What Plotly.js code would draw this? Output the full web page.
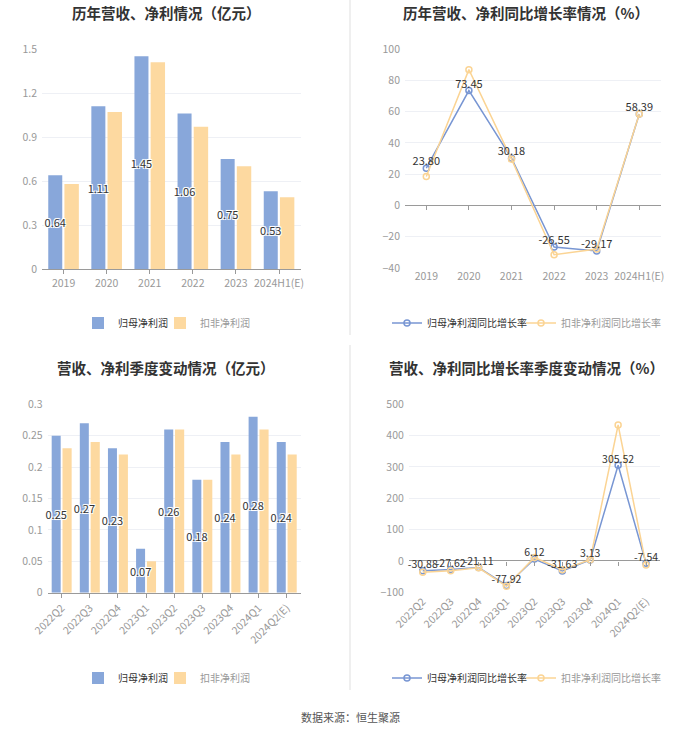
<!DOCTYPE html>
<html><head><meta charset="utf-8">
<script src="https://cdn.plot.ly/plotly-3.0.1.min.js"></script>
<style>html,body{margin:0;padding:0;background:#fff;}#chart{width:700px;height:734px;}</style>
</head><body><div id="chart"></div>
<script>
// ---- data ----
const years = ['2019','2020','2021','2022','2023','2024H1(E)'];
const profit = [0.64,1.11,1.45,1.06,0.75,0.53];
const deductProfit = [0.58,1.07,1.41,0.97,0.70,0.49];
const profitYoY = [23.80,73.45,30.18,-26.55,-29.17,58.39];
const deductYoY = [18.5,86.8,29.6,-31.5,-27.9,58.39];
const quarters = ['2022Q2','2022Q3','2022Q4','2023Q1','2023Q2','2023Q3','2023Q4','2024Q1','2024Q2(E)'];
const qProfit = [0.25,0.27,0.23,0.07,0.26,0.18,0.24,0.28,0.24];
const qDeduct = [0.23,0.24,0.22,0.05,0.26,0.18,0.22,0.26,0.22];
const qProfitYoY = [-30.88,-27.62,-21.11,-77.92,6.12,-31.63,3.13,305.52,-7.54];
const qDeductYoY = [-36,-31,-22,-81,11,-28,4,434,-13];
const names = ['归母净利润','扣非净利润','归母净利润同比增长率','扣非净利润同比增长率'];
const titles = ['历年营收、净利情况（亿元）','历年营收、净利同比增长率情况（%）','营收、净利季度变动情况（亿元）','营收、净利同比增长率季度变动情况（%）'];
const source = '数据来源：恒生聚源';

// ---- style ----
const W = 700, H = 734;
const FONT = '"Noto Sans CJK SC", "Noto Sans", sans-serif';
const BLUE = '#88a7da', ORANGE = '#fdd9a0';
const BLUE_L = '#7896d3', ORANGE_L = '#fbd494';
const TICK = '#999999', GRID = '#eef0f5', AXIS = '#9a9a9a';
const halo = '1px 1px 0 #fff, -1px -1px 0 #fff, 1px -1px 0 #fff, -1px 1px 0 #fff, 0 0 2px #fff';
const px = v => v / W;
const py = v => 1 - v / H;

function xa(d0, d1, anchor, extra) {
  return Object.assign({domain:[px(d0), px(d1)], anchor: anchor, type:'category',
    showline:true, linecolor:AXIS, linewidth:1, ticks:'outside', ticklen:4, tickcolor:AXIS,
    showgrid:false, zeroline:false, tickfont:{size:10.5, color:TICK, family:FONT}, fixedrange:true}, extra||{});
}
function ya(top, bot, range, dtick, anchor, extra) {
  return Object.assign({domain:[py(bot), py(top)], anchor: anchor, range: range, dtick: dtick,
    showline:false, ticks:'', gridcolor:GRID, gridwidth:1, zeroline:false,
    tickfont:{size:10.5, color:TICK, family:FONT}, ticklabelstandoff:4, fixedrange:true}, extra||{});
}
function zeroPos(d, r) { return d[0] + (0 - r[0]) / (r[1] - r[0]) * (d[1] - d[0]); }

const fmt = vals => vals.map(v => v.toFixed(2));

// bar geometry (category units)
const B_OFF = -0.355, B_W = 0.325, O_OFF = 0.02, O_W = 0.335;

const traces = [
  // panel 1 (orange drawn first so blue labels stay on top)
  {type:'bar', x:years, y:deductProfit, name:names[1], marker:{color:ORANGE}, offset:O_OFF, width:O_W,
   xaxis:'x', yaxis:'y', legend:'legend2', hoverinfo:'skip'},
  {type:'bar', x:years, y:profit, name:names[0], marker:{color:BLUE}, offset:B_OFF, width:B_W,
   xaxis:'x', yaxis:'y', legend:'legend', cliponaxis:false,
   text:fmt(profit), textposition:'inside', insidetextanchor:'middle', textangle:0, constraintext:'none',
   insidetextfont:{color:'#333', size:11, family:FONT, shadow:halo}, hoverinfo:'skip'},
  // panel 2
  {type:'scatter', mode:'lines+markers', x:years, y:profitYoY, name:names[2], xaxis:'x2', yaxis:'y2', legend:'legend3',
   line:{color:BLUE_L, width:1.5}, marker:{symbol:'circle-open', size:6, color:BLUE_L, line:{width:1.5}}, hoverinfo:'skip'},
  {type:'scatter', mode:'lines+markers', x:years, y:deductYoY, name:names[3], xaxis:'x2', yaxis:'y2', legend:'legend4',
   line:{color:ORANGE_L, width:1.5}, marker:{symbol:'circle-open', size:6, color:ORANGE_L, line:{width:1.5}}, hoverinfo:'skip'},
  {type:'scatter', mode:'text', x:years, y:profitYoY, text:fmt(profitYoY), textposition:'top center',
   textfont:{color:'#333', size:11, family:FONT}, xaxis:'x5', yaxis:'y2', showlegend:false, hoverinfo:'skip', cliponaxis:false},
  // panel 3
  {type:'bar', x:quarters, y:qDeduct, name:names[1], marker:{color:ORANGE}, offset:O_OFF+0.01, width:O_W-0.01,
   xaxis:'x3', yaxis:'y3', legend:'legend6', hoverinfo:'skip'},
  {type:'bar', x:quarters, y:qProfit, name:names[0], marker:{color:BLUE}, offset:B_OFF, width:B_W-0.005,
   xaxis:'x3', yaxis:'y3', legend:'legend5', cliponaxis:false,
   text:fmt(qProfit), textposition:'inside', insidetextanchor:'middle', textangle:0, constraintext:'none',
   insidetextfont:{color:'#333', size:11, family:FONT, shadow:halo}, hoverinfo:'skip'},
  // panel 4
  {type:'scatter', mode:'lines+markers', x:quarters, y:qProfitYoY, name:names[2], xaxis:'x4', yaxis:'y4', legend:'legend7',
   line:{color:BLUE_L, width:1.5}, marker:{symbol:'circle-open', size:6, color:BLUE_L, line:{width:1.5}}, hoverinfo:'skip'},
  {type:'scatter', mode:'lines+markers', x:quarters, y:qDeductYoY, name:names[3], xaxis:'x4', yaxis:'y4', legend:'legend8',
   line:{color:ORANGE_L, width:1.5}, marker:{symbol:'circle-open', size:6, color:ORANGE_L, line:{width:1.5}}, hoverinfo:'skip'},
  {type:'scatter', mode:'text', x:quarters, y:qProfitYoY, text:fmt(qProfitYoY), textposition:'top center',
   textfont:{color:'#333', size:10.5, family:FONT}, xaxis:'x6', yaxis:'y4', showlegend:false, hoverinfo:'skip', cliponaxis:false}
];

const y2d = [py(268), py(49)], y2r = [-40, 100];
const y4d = [py(592.3), py(404.3)], y4r = [-100, 500];

function legendAt(x, y, color) {
  return {x:px(x), y:py(y), xanchor:'left', yanchor:'middle', orientation:'h', bgcolor:'rgba(0,0,0,0)',
    font:{size:10, color:color, family:FONT}, itemwidth:30, tracegroupgap:0};
}

const titleAnn = (t, x, y) => ({text:'<b>'+t+'</b>', x:px(x), y:py(y), xref:'paper', yref:'paper',
  xanchor:'center', yanchor:'middle', showarrow:false, font:{size:14.5, color:'#333', family:FONT}});

const layout = {
  width:W, height:H, margin:{l:0, r:0, t:0, b:0}, paper_bgcolor:'#fff', plot_bgcolor:'#fff',
  font:{family:FONT}, barmode:'overlay', showlegend:true,
  xaxis: xa(42, 300.6, 'y', {range:[-0.5,5.5]}),
  yaxis: ya(49, 269, [0,1.5], 0.3, 'x'),
  xaxis2: xa(405, 660.6, 'y2', {range:[-0.5,5.5], showline:false, ticks:''}),
  yaxis2: ya(49, 268, y2r, 20, 'x2', {zeroline:true, zerolinecolor:AXIS, zerolinewidth:1}),
  xaxis5: xa(405, 660.6, 'free', {overlaying:'x2', position:zeroPos(y2d, y2r), range:[-0.5,5.5], showline:false, showticklabels:false, categoryarray:years, categoryorder:'array'}),
  xaxis3: xa(47.6, 300.8, 'y3', {range:[-0.5,8.5], tickangle:-45}),
  yaxis3: ya(404.3, 592.7, [0,0.3], 0.05, 'x3'),
  xaxis4: xa(408.8, 660, 'y4', {range:[-0.5,8.5], tickangle:-45, showline:false, ticks:''}),
  yaxis4: ya(404.3, 592.3, y4r, 100, 'x4', {zeroline:true, zerolinecolor:AXIS, zerolinewidth:1}),
  xaxis6: xa(408.8, 660, 'free', {overlaying:'x4', position:zeroPos(y4d, y4r), range:[-0.5,8.5], showline:false, showticklabels:false, categoryarray:quarters, categoryorder:'array'}),
  legend: legendAt(78, 323, '#333'),
  legend2: legendAt(160, 323, '#999'),
  legend3: legendAt(387, 323, '#333'),
  legend4: legendAt(521, 323, '#999'),
  legend5: legendAt(78, 678, '#333'),
  legend6: legendAt(160, 678, '#999'),
  legend7: legendAt(387, 678, '#333'),
  legend8: legendAt(521, 678, '#999'),
  annotations: [
    titleAnn(titles[0], 166, 12),
    titleAnn(titles[1], 526, 12),
    titleAnn(titles[2], 166, 367),
    titleAnn(titles[3], 526, 367),
    {text:source, x:px(350), y:py(717), xref:'paper', yref:'paper', xanchor:'center', yanchor:'middle', showarrow:false,
     font:{size:11, color:'#555', family:FONT}}
  ],
  shapes: [
    {type:'line', xref:'paper', yref:'paper', x0:px(350), x1:px(350), y0:py(0), y1:py(335), line:{color:'#efefef', width:2}},
    {type:'line', xref:'paper', yref:'paper', x0:px(350), x1:px(350), y0:py(345), y1:py(690), line:{color:'#efefef', width:2}}
  ]
};

Plotly.newPlot('chart', traces, layout, {displayModeBar:false, staticPlot:true});
</script>
</body></html>
